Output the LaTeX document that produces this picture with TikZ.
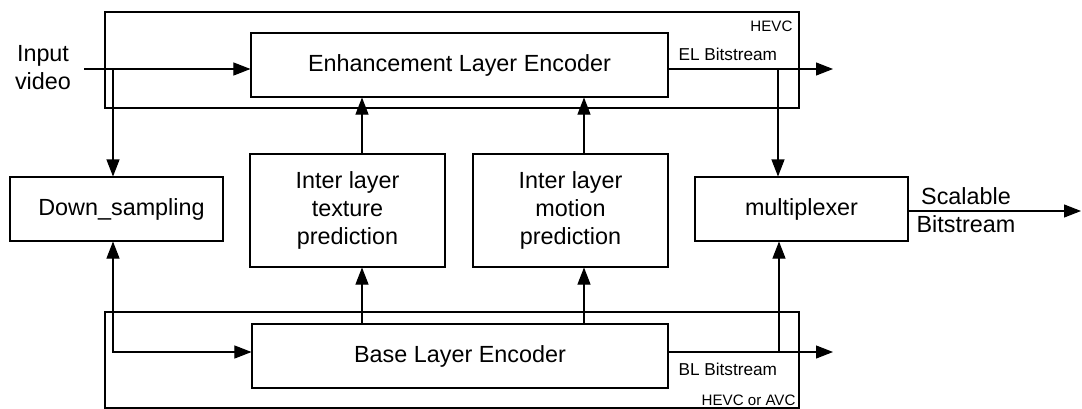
\documentclass[tikz,border=0pt]{standalone}
\usepackage{fontspec}
\setmainfont{Liberation Sans}
\usetikzlibrary{positioning, arrows.meta}

\begin{document}
\begin{tikzpicture}[
    x=0.2mm, y=-0.2mm,
    line width=0.6pt,
    >={Triangle[length=3.4mm, width=2.6mm]},
    box/.style={draw, rectangle, align=center, inner sep=0pt,
                font=\fontsize{13.3}{16}\selectfont},
    frame/.style={draw, rectangle, inner sep=0pt},
    lbl/.style={inner sep=0pt, align=center, font=\fontsize{13.3}{16}\selectfont},
    small/.style={inner sep=0pt, font=\fontsize{9.8}{11}\selectfont},
    tag/.style={inner sep=0pt, font=\fontsize{8.6}{10}\selectfont}
]
\useasboundingbox (0,0) rectangle (1082,409);

% outer codec frames
\node[frame, minimum width=138.8mm, minimum height=19.2mm] (hevcbox) at (452,60) {};
\node[frame, minimum width=138.8mm, minimum height=19.2mm] (basebox) at (452,360) {};
\node[tag, anchor=east] (hevctag) at (793,26) {HEVC};
\node[tag, anchor=east] (avctag) at (796,400) {HEVC or AVC};

% blocks
\node[box, minimum width=83.4mm, minimum height=12.8mm] (EL) at (459.5,65) {Enhancement Layer Encoder};
\node[box, minimum width=83.2mm, minimum height=12.8mm] (BL) at (460,356) {Base Layer Encoder};
\node[box, minimum width=42.6mm, minimum height=12.8mm] (DS) at (116.5,209) {\hspace*{2mm}Down\_sampling};
\node[box, minimum width=39mm, minimum height=22.6mm] (TX) at (347.5,210.5) {Inter layer\\texture\\prediction};
\node[box, minimum width=39mm, minimum height=22.6mm] (MO) at (570.5,210.5) {Inter layer\\motion\\prediction};
\node[box, minimum width=42.6mm, minimum height=12.8mm] (MX) at (801.5,209) {multiplexer};

% texts
\node[lbl] (invid) at (43,68) {Input\\video};
\node[small, anchor=west] (eltxt) at (678,54) {EL Bitstream};
\node[small, anchor=west] (bltxt) at (678,369) {BL Bitstream};
\node[lbl] (sbtxt) at (966,210) {Scalable\\Bitstream};

% connector points
\coordinate (in) at (84,69);
\coordinate (tap) at (113,69);
\coordinate (blin) at (113,352);
\coordinate (tx) at (362,0);
\coordinate (mo) at (584,0);
\coordinate (elout) at (833,69);
\coordinate (eltap) at (778,69);
\coordinate (blout) at (833,352);
\coordinate (bltap) at (779,352);
\coordinate (sout) at (1081,211);

% connectors
\draw[->] (in) -- (EL.west |- in);
\draw[->] (tap) -- (tap |- DS.north);
\draw[<->] (DS.south -| blin) -- (blin) -- (BL.west |- blin);
\draw[->] (BL.north -| tx) -- (TX.south -| tx);
\draw[->] (TX.north -| tx) -- (EL.south -| tx);
\draw[->] (BL.north -| mo) -- (MO.south -| mo);
\draw[->] (MO.north -| mo) -- (EL.south -| mo);
\draw[->] (EL.east |- elout) -- (elout);
\draw[->] (eltap) -- (eltap |- MX.north);
\draw[->] (BL.east |- blout) -- (blout);
\draw[->] (bltap) -- (bltap |- MX.south);
\draw[->] (MX.east |- sout) -- (sout);
\end{tikzpicture}
\end{document}
